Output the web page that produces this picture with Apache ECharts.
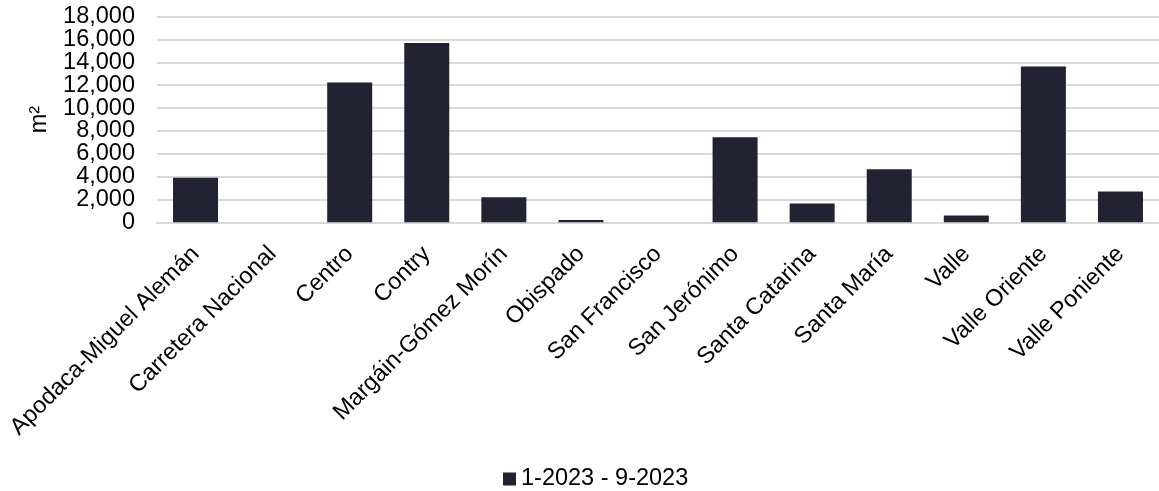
<!DOCTYPE html>
<html>
<head>
<meta charset="utf-8">
<script src="https://cdn.jsdelivr.net/npm/echarts@6/dist/echarts.min.js"></script>
<style>
html,body{margin:0;padding:0;background:#fff;}
#chart{width:1159px;height:491px;}
</style>
</head>
<body>
<div id="chart"></div>
<script>
const categories = ["Apodaca-Miguel Alemán","Carretera Nacional","Centro","Contry","Margáin-Gómez Morín","Obispado","San Francisco","San Jerónimo","Santa Catarina","Santa María","Valle","Valle Oriente","Valle Poniente"];
const seriesName = "1-2023 - 9-2023";
const values = [3900, 0, 12250, 15700, 2200, 200, 0, 7450, 1650, 4650, 600, 13650, 2700];
const yTicks = [0, 2000, 4000, 6000, 8000, 10000, 12000, 14000, 16000, 18000];
const yName = "m²";

const font = "'Liberation Sans', Arial, sans-serif";
const yMin = yTicks[0], yMax = yTicks[yTicks.length-1], yStep = yTicks[1]-yTicks[0];
function tickLabel(parity){
  return function(v){
    const i = yTicks.indexOf(v);
    return (i >= 0 && i % 2 === parity) ? v.toLocaleString('en-US') : '';
  };
}
const labelStyle = {margin:22, fontSize:23.5, color:'#000', fontFamily:font,
  showMinLabel:true, showMaxLabel:true, hideOverlap:false};

const chart = echarts.init(document.getElementById('chart'), null, {renderer:'canvas'});
chart.setOption({
  animation:false,
  backgroundColor:'#ffffff',
  textStyle:{fontFamily:font},
  grid:{left:157, top:16.7, width:1011, height:205.6, containLabel:false},
  legend:{
    data:[seriesName], left:503, top:467, padding:0, itemWidth:13, itemHeight:13, itemGap:10,
    icon:'rect',
    textStyle:{fontFamily:font, fontSize:23.5, color:'#000'}
  },
  xAxis:{
    type:'category', data:categories,
    axisLine:{show:true, lineStyle:{color:'#d9d9d9', width:2}},
    axisTick:{show:false},
    axisLabel:{interval:0, rotate:45, margin:28, fontSize:23.5, color:'#000', fontFamily:font, hideOverlap:false}
  },
  yAxis:[{
    type:'value', min:yMin, max:yMax, interval:yStep, position:'left',
    name:yName, nameLocation:'middle', nameRotate:90, nameGap:105,
    nameTextStyle:{fontSize:23.5, color:'#000', fontFamily:font},
    axisLine:{show:false}, axisTick:{show:false},
    splitLine:{lineStyle:{color:'#d9d9d9', width:2}},
    axisLabel:Object.assign({formatter:tickLabel(0)}, labelStyle)
  },{
    type:'value', min:yMin, max:yMax, interval:yStep, position:'left', offset:0,
    axisLine:{show:false}, axisTick:{show:false}, splitLine:{show:false},
    axisLabel:Object.assign({formatter:tickLabel(1)}, labelStyle)
  }],
  series:[{
    name:seriesName, type:'bar', data:values, barWidth:45, yAxisIndex:0,
    itemStyle:{color:'#212332'}
  }]
});
</script>
</body>
</html>
